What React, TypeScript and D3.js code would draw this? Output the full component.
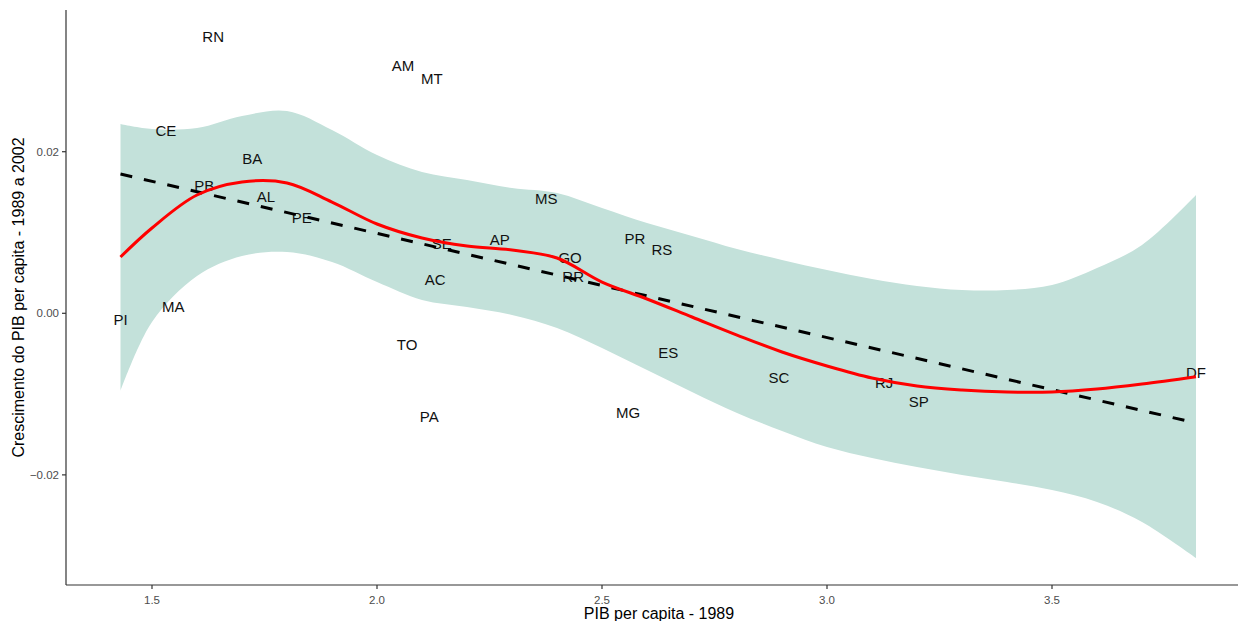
import React from 'react';
import * as d3 from 'd3';

// Scatter of state labels: PIB per capita 1989 vs growth 1989-2002,
// with linear fit (dashed) and loess fit (red) + confidence band.

const WIDTH = 1238;
const HEIGHT = 621;
const PANEL = { left: 66, right: 1252, top: 10, bottom: 585 };

const STATES = ['RN', 'AM', 'MT', 'CE', 'BA', 'PB', 'AL', 'PE', 'MS', 'SE', 'AP', 'GO', 'RR', 'AC', 'PR', 'RS', 'MA', 'PI', 'TO', 'ES', 'SC', 'RJ', 'SP', 'DF', 'PA', 'MG'];
const PIB_1989 = [1.636, 2.058, 2.122, 1.531, 1.723, 1.616, 1.753, 1.833, 2.376, 2.144, 2.273, 2.429, 2.436, 2.129, 2.573, 2.633, 1.547, 1.43, 2.067, 2.647, 2.893, 3.127, 3.204, 3.82, 2.116, 2.558];
const CRESCIMENTO = [0.0343, 0.0307, 0.029, 0.0226, 0.0191, 0.0158, 0.0144, 0.0119, 0.0142, 0.0086, 0.0091, 0.0069, 0.0045, 0.0042, 0.0092, 0.0079, 0.0009, -0.0008, -0.0039, -0.0049, -0.0079, -0.0086, -0.0109, -0.0073, -0.0128, -0.0123];

// loess fit
const FIT_X = [1.43, 1.5, 1.6, 1.7, 1.8, 1.9, 2.0, 2.1, 2.2, 2.3, 2.4, 2.5, 2.6, 2.7, 2.8, 2.9, 3.0, 3.1, 3.2, 3.3, 3.4, 3.5, 3.6, 3.7, 3.82];
const LOESS_Y = [0.00697, 0.01056, 0.01464, 0.01625, 0.01613, 0.01377, 0.01105, 0.00932, 0.00833, 0.00783, 0.00684, 0.00387, 0.00177, -0.00046, -0.00269, -0.00479, -0.00652, -0.00801, -0.009, -0.00949, -0.00974, -0.00974, -0.00937, -0.00875, -0.00785];
const BAND_HI = [0.02343, 0.02281, 0.02293, 0.02442, 0.02504, 0.02269, 0.01959, 0.01749, 0.0165, 0.01551, 0.01489, 0.01303, 0.01117, 0.00957, 0.00796, 0.0066, 0.00536, 0.00424, 0.00338, 0.00288, 0.00288, 0.0035, 0.00561, 0.00845, 0.01464];
const BAND_LO = [-0.00962, -0.00108, 0.00462, 0.00709, 0.00759, 0.00635, 0.00387, 0.00165, 0.00078, -0.00021, -0.00182, -0.00429, -0.00702, -0.00974, -0.01234, -0.01457, -0.01655, -0.01791, -0.01903, -0.02001, -0.02088, -0.02187, -0.02335, -0.02583, -0.03029];

// linear fit endpoints
const LM_X = [1.43, 3.82];
const LM_Y = [0.01724, -0.01358];

const X_TICKS = [1.5, 2.0, 2.5, 3.0, 3.5];
const Y_TICKS = [-0.02, 0.0, 0.02];

const FONT = '"Liberation Sans", Arial, sans-serif';

export default function App() {
  const x = d3.scaleLinear().domain([1.30889, 3.94444]).range([PANEL.left, PANEL.right]);
  const y = d3.scaleLinear().domain([-0.03363, 0.03754]).range([PANEL.bottom, PANEL.top]);

  const band = d3
    .area<number>()
    .x((i) => x(FIT_X[i]))
    .y0((i) => y(BAND_LO[i]))
    .y1((i) => y(BAND_HI[i]))
    .curve(d3.curveCatmullRom);
  const loess = d3
    .line<number>()
    .x((i) => x(FIT_X[i]))
    .y((i) => y(LOESS_Y[i]))
    .curve(d3.curveCatmullRom);
  const lm = d3
    .line<number>()
    .x((i) => x(LM_X[i]))
    .y((i) => y(LM_Y[i]));

  const idx = FIT_X.map((_, i) => i);
  const fmtX = d3.format('.1f');
  const fmtY = d3.format('.2f');

  return (
    <svg
      width={WIDTH}
      height={HEIGHT}
      style={{ position: 'absolute', left: 0, top: 0, background: '#fff' }}
      fontFamily={FONT}
    >
      <path d={band(idx) ?? ''} fill="#c3e1da" stroke="none" />

      {STATES.map((s, i) => (
        <text
          key={s}
          x={x(PIB_1989[i])}
          y={y(CRESCIMENTO[i])}
          textAnchor="middle"
          dominantBaseline="central"
          fontSize={15}
          fill="#111"
        >
          {s}
        </text>
      ))}

      <path
        d={lm([0, 1]) ?? ''}
        fill="none"
        stroke="#000"
        strokeWidth={3}
        strokeDasharray="12 12"
      />
      <path d={loess(idx) ?? ''} fill="none" stroke="#ff0000" strokeWidth={3} />

      {/* axes */}
      <line x1={PANEL.left} x2={PANEL.left} y1={PANEL.top} y2={PANEL.bottom} stroke="#333" strokeWidth={1.2} />
      <line x1={PANEL.left} x2={WIDTH} y1={PANEL.bottom} y2={PANEL.bottom} stroke="#333" strokeWidth={1.2} />

      {X_TICKS.map((t) => (
        <g key={`xt-${t}`} transform={`translate(${x(t)},${PANEL.bottom})`}>
          <line y1={0} y2={4} stroke="#333" strokeWidth={1.2} />
          <text y={15} textAnchor="middle" dominantBaseline="central" fontSize={11.5} fill="#4d4d4d">
            {fmtX(t)}
          </text>
        </g>
      ))}
      {Y_TICKS.map((t) => (
        <g key={`yt-${t}`} transform={`translate(${PANEL.left},${y(t)})`}>
          <line x1={-4} x2={0} stroke="#333" strokeWidth={1.2} />
          <text x={-7} textAnchor="end" dominantBaseline="central" fontSize={11.5} fill="#4d4d4d">
            {fmtY(t)}
          </text>
        </g>
      ))}

      <text
        x={(PANEL.left + PANEL.right) / 2}
        y={613}
        textAnchor="middle"
        dominantBaseline="central"
        fontSize={16}
        fill="#000"
      >
        PIB per capita - 1989
      </text>
      <text
        transform={`translate(18,${(PANEL.top + PANEL.bottom) / 2}) rotate(-90)`}
        textAnchor="middle"
        dominantBaseline="central"
        fontSize={16}
        fill="#000"
      >
        Crescimento do PIB per capita - 1989 a 2002
      </text>
    </svg>
  );
}
